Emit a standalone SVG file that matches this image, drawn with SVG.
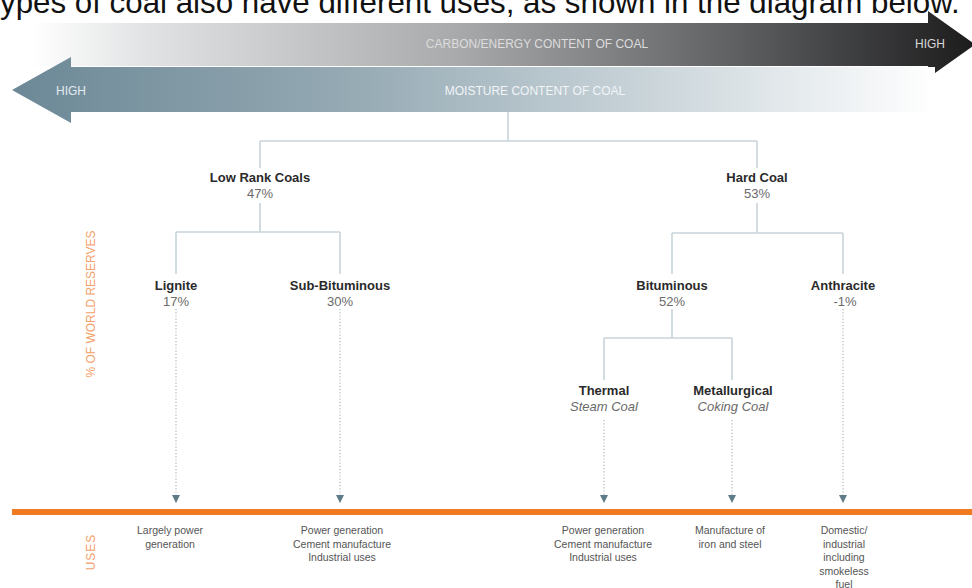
<svg xmlns="http://www.w3.org/2000/svg" width="972" height="588" viewBox="0 0 972 588">
<defs>
<linearGradient id="gDark" x1="30" y1="0" x2="975" y2="0" gradientUnits="userSpaceOnUse">
<stop offset="0" stop-color="#ffffff"/>
<stop offset="0.12" stop-color="#e2e3e4"/>
<stop offset="0.45" stop-color="#a9aaac"/>
<stop offset="0.75" stop-color="#5e5f61"/>
<stop offset="1" stop-color="#1c1c1d"/>
</linearGradient>
<linearGradient id="gBlue" x1="12" y1="0" x2="935" y2="0" gradientUnits="userSpaceOnUse">
<stop offset="0" stop-color="#6c8896"/>
<stop offset="0.35" stop-color="#93a8b2"/>
<stop offset="0.65" stop-color="#c3cfd5"/>
<stop offset="1" stop-color="#ffffff"/>
</linearGradient>
<marker id="tri" viewBox="0 0 10 10" refX="10" refY="5" markerWidth="8" markerHeight="9" markerUnits="userSpaceOnUse" orient="auto">
<path d="M0,0 L10,5 L0,10 Z" fill="#5f7b88"/>
</marker>
<style>
.tree{fill:none;stroke:#c9d4da;stroke-width:1.6}
.dot{fill:none;stroke:#a9b5bb;stroke-width:1.2;stroke-dasharray:1.2 2}
.name{font-family:"Liberation Sans",Arial,sans-serif;font-size:13px;font-weight:bold;fill:#2a2a2a;text-anchor:middle}
.pct{font-family:"Liberation Sans",Arial,sans-serif;font-size:13px;fill:#6a6a6a;text-anchor:middle}
.sub{font-family:"Liberation Sans",Arial,sans-serif;font-size:13px;font-style:italic;fill:#6a6a6a;text-anchor:middle}
.use{font-family:"Liberation Sans",Arial,sans-serif;font-size:10.5px;fill:#555;text-anchor:middle}
.bar{font-family:"Liberation Sans",Arial,sans-serif;font-size:12px}
.axis{font-family:"Liberation Sans",Arial,sans-serif;font-size:12px;fill:#f4a16a;text-anchor:middle}
</style>
</defs>
<rect width="972" height="588" fill="#ffffff"/>
<text x="-8.7" y="13" font-family="'Liberation Sans',Arial,sans-serif" font-size="31.3" fill="#111">types of coal also have different uses, as shown in the diagram below.</text>

<g id="arrow-carbon">
<path d="M30,23 L928,23 L928,11 L975,44.5 L928,78 L928,66 L30,66 Z" fill="url(#gDark)"/>
<text class="bar" x="537" y="48" text-anchor="middle" fill="#dcdcdc">CARBON/ENERGY CONTENT OF COAL</text>
<text class="bar" x="930" y="48" text-anchor="middle" fill="#d8d8d8">HIGH</text>
</g>
<g id="arrow-moisture">
<path d="M12,90 L71,57 L71,67 L935,67 L935,112 L71,112 L71,123 Z" fill="url(#gBlue)"/>
<text class="bar" x="71" y="95" text-anchor="middle" fill="#e3eaee">HIGH</text>
<text class="bar" x="535" y="95" text-anchor="middle" fill="#f2f5f7">MOISTURE CONTENT OF COAL</text>
</g>

<g id="axis-labels">
<text class="axis" transform="translate(95,304) rotate(-90)">% OF WORLD RESERVES</text>
<text class="axis" transform="translate(95,552) rotate(-90)" letter-spacing="1">USES</text>
</g>

<g id="uses-line">
<rect x="12" y="509" width="960" height="6" fill="#f27b22"/>
</g>

<g id="connectors">
<path class="tree" d="M508,112 V141 M260,141 H757 M260,141 V168 M757,141 V168"/>
<path class="tree" d="M260,203 V232 M176,232 H340 M176,232 V274 M340,232 V274"/>
<path class="tree" d="M757,203 V233 M672,233 H843 M672,233 V274 M843,233 V274"/>
<path class="tree" d="M672,309 V338 M604,338 H732 M604,338 V380 M732,338 V380"/>
<path class="dot" d="M176,309 V503" marker-end="url(#tri)"/>
<path class="dot" d="M340,309 V503" marker-end="url(#tri)"/>
<path class="dot" d="M604,420 V503" marker-end="url(#tri)"/>
<path class="dot" d="M732,420 V503" marker-end="url(#tri)"/>
<path class="dot" d="M843,309 V503" marker-end="url(#tri)"/>
</g>

<g id="node-lowrank"><text class="name" x="260" y="182">Low Rank Coals</text><text class="pct" x="260" y="198">47%</text></g>
<g id="node-hardcoal"><text class="name" x="757" y="182">Hard Coal</text><text class="pct" x="757" y="198">53%</text></g>
<g id="node-lignite"><text class="name" x="176" y="290">Lignite</text><text class="pct" x="176" y="306">17%</text></g>
<g id="node-subbit"><text class="name" x="340" y="290">Sub-Bituminous</text><text class="pct" x="340" y="306">30%</text></g>
<g id="node-bituminous"><text class="name" x="672" y="290">Bituminous</text><text class="pct" x="672" y="306">52%</text></g>
<g id="node-anthracite"><text class="name" x="843" y="290">Anthracite</text><text class="pct" x="845" y="306">-1%</text></g>
<g id="node-thermal"><text class="name" x="604" y="395">Thermal</text><text class="sub" x="604" y="411">Steam Coal</text></g>
<g id="node-metallurgical"><text class="name" x="733" y="395">Metallurgical</text><text class="sub" x="733" y="411">Coking Coal</text></g>

<g id="use-lignite"><text class="use" x="170" y="534">Largely power</text><text class="use" x="170" y="547.5">generation</text></g>
<g id="use-subbit"><text class="use" x="342" y="534">Power generation</text><text class="use" x="342" y="547.5">Cement manufacture</text><text class="use" x="342" y="561">Industrial uses</text></g>
<g id="use-thermal"><text class="use" x="603" y="534">Power generation</text><text class="use" x="603" y="547.5">Cement manufacture</text><text class="use" x="603" y="561">Industrial uses</text></g>
<g id="use-metallurgical"><text class="use" x="730" y="534">Manufacture of</text><text class="use" x="730" y="547.5">iron and steel</text></g>
<g id="use-anthracite"><text class="use" x="844" y="534">Domestic/</text><text class="use" x="844" y="547.5">industrial</text><text class="use" x="844" y="561">including</text><text class="use" x="844" y="574.5">smokeless</text><text class="use" x="844" y="588">fuel</text></g>
</svg>
